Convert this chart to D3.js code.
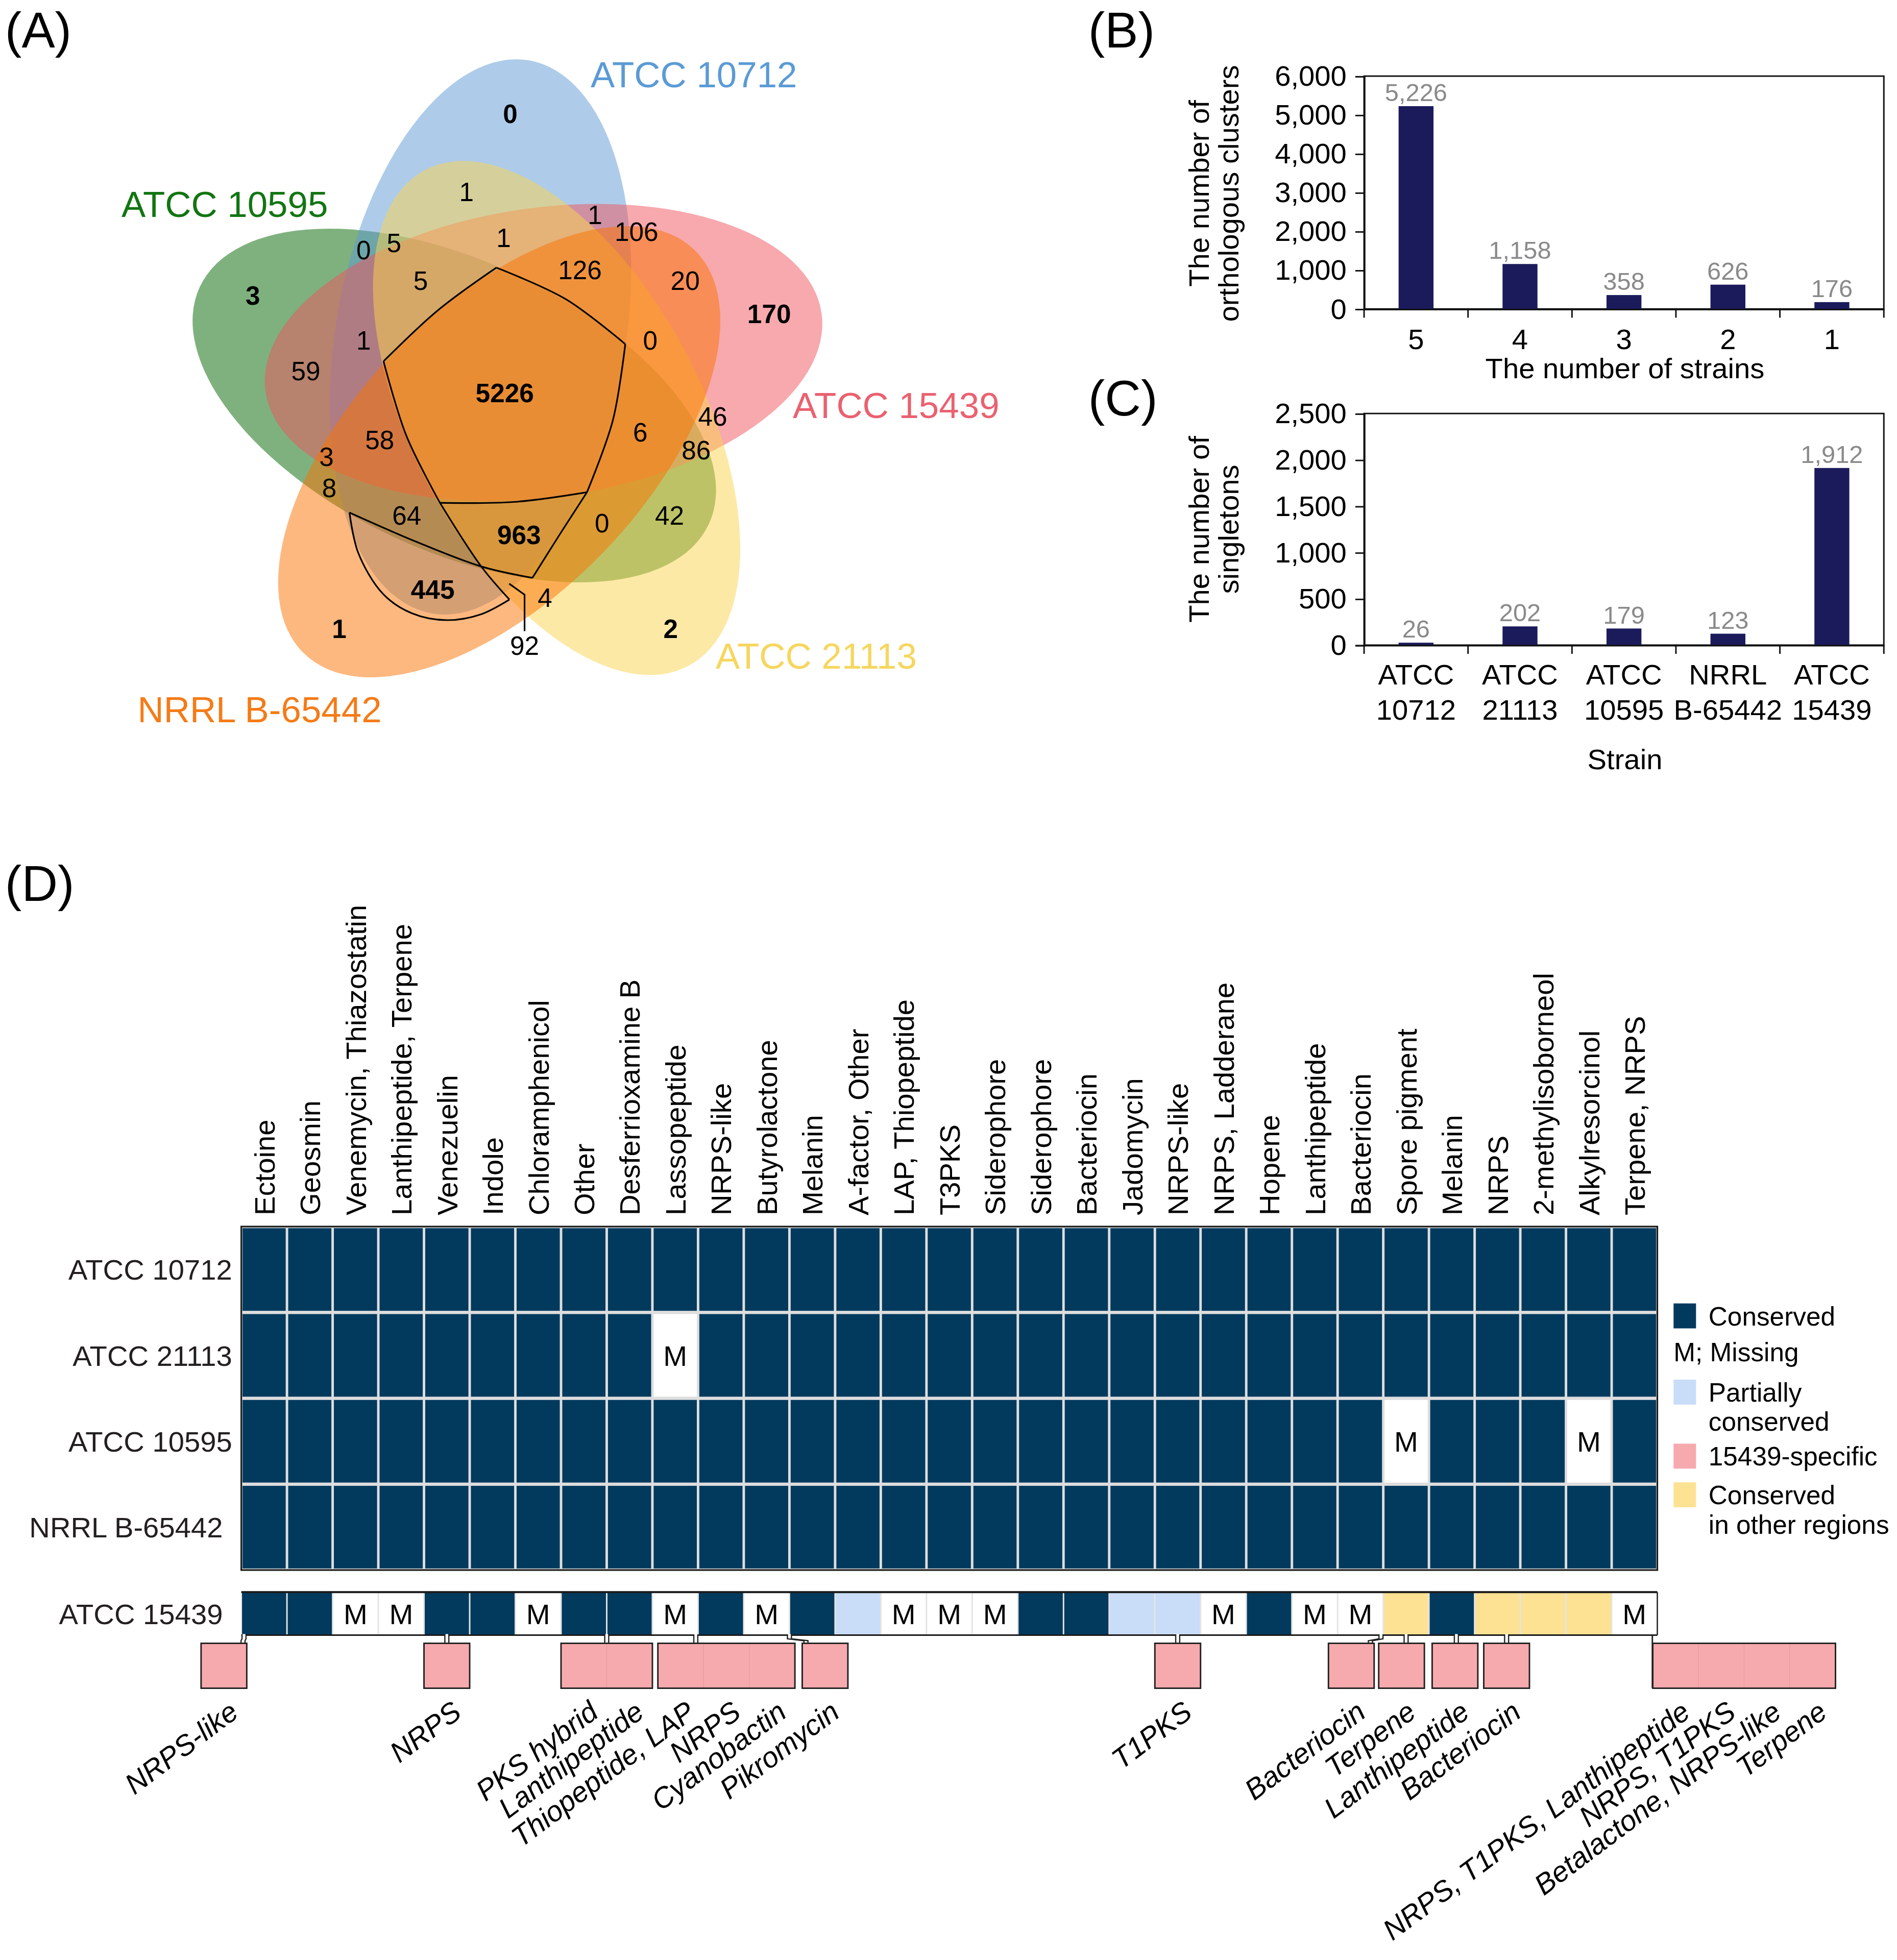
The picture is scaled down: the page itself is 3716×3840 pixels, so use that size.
<!DOCTYPE html>
<html lang="en">
<head>
<meta charset="UTF-8">
<title>Orthologous clusters and BGC conservation</title>
<script src="https://cdn.jsdelivr.net/npm/d3@7"></script>
<style>
  body { margin: 0; background: #fff; }
  svg { display: block; }
</style>
</head>
<body>
<div id="chart"></div>
<script>
// ---------- data ----------
// (A) Venn: strains clockwise from the top petal
const vennStrains = ["ATCC 10712", "ATCC 15439", "ATCC 21113", "NRRL B-65442", "ATCC 10595"];
const vennCounts = [0, 1, 1, 106, 0, 5, 1, 126, 20, 3, 5, 170, 1, 0, 59, 5226, 46, 6, 58, 3, 86, 8, 64, 963, 0, 42, 445, 4, 1, 92, 2];
const vennBold = [1, 0, 0, 0, 0, 0, 0, 0, 0, 1, 0, 1, 0, 0, 0, 1, 0, 0, 0, 0, 0, 0, 0, 1, 0, 0, 1, 0, 1, 0, 1];

// (B) orthologous clusters by number of sharing strains
const strainCounts = ["5", "4", "3", "2", "1"];
const orthoClusters = [5226, 1158, 358, 626, 176];
const orthoTicks = [0, 1000, 2000, 3000, 4000, 5000, 6000];

// (C) singletons per strain
const singletonStrains = ["ATCC 10712", "ATCC 21113", "ATCC 10595", "NRRL B-65442", "ATCC 15439"];
const singletons = [26, 202, 179, 123, 1912];
const singletonTicks = [0, 500, 1000, 1500, 2000, 2500];

// (D) BGC conservation; C conserved, M missing, P partial, O conserved in other regions
const bgcNames = ["Ectoine", "Geosmin", "Venemycin, Thiazostatin", "Lanthipeptide, Terpene", "Venezuelin",
  "Indole", "Chloramphenicol", "Other", "Desferrioxamine B", "Lassopeptide", "NRPS-like", "Butyrolactone",
  "Melanin", "A-factor, Other", "LAP, Thiopeptide", "T3PKS", "Siderophore", "Siderophore", "Bacteriocin",
  "Jadomycin", "NRPS-like", "NRPS, Ladderane", "Hopene", "Lanthipeptide", "Bacteriocin", "Spore pigment",
  "Melanin", "NRPS", "2-methylisoborneol", "Alkylresorcinol", "Terpene, NRPS"];
const heatStrains = ["ATCC 10712", "ATCC 21113", "ATCC 10595", "NRRL B-65442"];
const heatStatus = [
  "CCCCC CCCCC CCCCC CCCCC CCCCC CCCCC C",
  "CCCCC CCCCM CCCCC CCCCC CCCCC CCCCC C",
  "CCCCC CCCCC CCCCC CCCCC CCCCC MCCCM C",
  "CCCCC CCCCC CCCCC CCCCC CCCCC CCCCC C"
].map(s => s.replace(/ /g, "").split(""));
const refStrain = "ATCC 15439";
const refStatus = "CCMMC CMCCM CMCPM MMCCP PMCMM OCOOO M".replace(/ /g, "").split("");
// 15439-specific clusters (position in column units along the strip)
const insertLabels = ["NRPS-like", "NRPS", "PKS hybrid", "Lanthipeptide", "Thiopeptide, LAP", "NRPS",
  "Cyanobactin", "Pikromycin", "T1PKS", "Bacteriocin", "Terpene", "Lanthipeptide", "Bacteriocin",
  "NRPS, T1PKS, Lanthipeptide", "NRPS, T1PKS", "Betalactone, NRPS-like", "Terpene"];
const insertSlot = [-0.88, 4, 7, 8, 9.12, 10.12, 11.12, 12.28, 20, 23.8, 24.9, 26.07, 27.2, 30.9, 31.9, 32.9, 33.9];
const insertGroup = [0, 1, 2, 2, 3, 3, 3, 4, 5, 6, 7, 8, 9, 10, 10, 10, 10];
const groupLink = [0.06, 4.5, 8, 9.95, 12.0, 20.5, 24.95, 25.5, 26.6, 27.7, 30.9];

const legendItems = [
  { code: "C", lines: ["Conserved"] },
  { code: "M", lines: ["M; Missing"] },
  { code: "P", lines: ["Partially", "conserved"] },
  { code: "S", lines: ["15439-specific"] },
  { code: "O", lines: ["Conserved", "in other regions"] }
];

// ---------- layout ----------
const W = 1520, H = 1570.8;
const FONT = "'Liberation Sans', Arial, Helvetica, sans-serif";
const svg = d3.select("#chart").append("svg")
  .attr("width", 3716).attr("height", 3840)
  .attr("viewBox", `0 0 ${W} ${H}`)
  .attr("font-family", FONT);
svg.append("rect").attr("width", W).attr("height", H).attr("fill", "#fff");

const letters = [["(A)", 4, 38], ["(B)", 872, 38], ["(C)", 872, 333], ["(D)", 4, 722]];
svg.selectAll(".letter").data(letters).join("text")
  .attr("x", d => d[1]).attr("y", d => d[2])
  .attr("font-size", 40).text(d => d[0]);

// ---------- (A) Venn ----------
const vennFill = ["#5d99d3", "#ef535d", "#fbd34d", "#fb7100", "#006400"];
const vennText = ["#5b9bd5", "#ea6170", "#f6d65e", "#f57b17", "#127512"];
const vennCentre = [[385, 270], [435.5, 282.5], [446, 335], [400, 362], [364, 325]];
const vennAngle = [-80, -8, 62, -46, 25];
const va = 225, vb = 116;
const vennLabelXY = [[556, 70], [718, 335], [654, 536], [208, 579], [180, 174]];
const vennCountXY = [[408.8, 90.9], [373.8, 153.5], [476.7, 172], [510, 185.7], [291.3, 200.4], [315.7, 194.5],
  [403.5, 190.6], [464.7, 216], [549, 224.8], [202.6, 236.6], [337, 224.8], [616.3, 251.2], [291.3, 272.7],
  [521, 272.7], [245, 297], [404.4, 314.9], [571, 333.7], [513, 346.2], [304.2, 352.5], [261.6, 366],
  [557.8, 360.8], [263.8, 391], [325.9, 413], [415.9, 428.6], [482.4, 419.2], [536.5, 413], [346.7, 472.4],
  [436.7, 478.7], [271.8, 503.7], [420.3, 517.3], [537.4, 503.7]];

const ellipses = vennStrains.map((s, i) => ({
  cx: vennCentre[i][0], cy: vennCentre[i][1], rot: vennAngle[i], fill: vennFill[i]
}));
const drawOrder = [4, 0, 1, 2, 3];
const gv = svg.append("g");
gv.selectAll("ellipse").data(drawOrder.map(i => ellipses[i])).join("ellipse")
  .attr("cx", d => d.cx).attr("cy", d => d.cy).attr("rx", va).attr("ry", vb)
  .attr("transform", d => `rotate(${d.rot},${d.cx},${d.cy})`)
  .attr("fill", d => d.fill).attr("fill-opacity", 0.5);

// hand-drawn region outlines
const curve = d3.line().curve(d3.curveCatmullRom.alpha(0.5));
const outlines = [
  [[397.7, 214.5], [350.7, 248.8], [307.3, 289.6]],
  [[397.7, 214.5], [453, 239.6], [501, 275.8]],
  [[501, 275.8], [491, 337], [470.3, 394.5]],
  [[470.3, 394.5], [412.8, 402.2], [352.5, 403]],
  [[352.5, 403], [325.5, 349], [307.3, 289.6]],
  [[352.5, 403], [385.6, 454], [408.2, 480.5]],
  [[470.3, 394.5], [448.3, 428.6], [426.6, 463.1]],
  [[280, 410.8], [332.6, 433.8], [385.6, 454], [426.6, 463.1]],
  [[280, 410.8], [287, 443], [306.9, 476], [330, 491.5], [358, 497], [385.8, 492.2], [408.2, 480.5]]
];
gv.selectAll(".outline").data(outlines).join("path")
  .attr("d", curve).attr("fill", "none").attr("stroke", "#000").attr("stroke-width", 1.3);
gv.append("path").attr("d", d3.line()([[408, 467.8], [420.3, 476.6], [420.3, 505.8]]))
  .attr("fill", "none").attr("stroke", "#000").attr("stroke-width", 1.3);

gv.selectAll(".cnt").data(vennCounts).join("text")
  .attr("x", (d, i) => vennCountXY[i][0]).attr("y", (d, i) => vennCountXY[i][1])
  .attr("dy", "0.36em").attr("text-anchor", "middle").attr("font-size", 21)
  .attr("font-weight", (d, i) => vennBold[i] ? "bold" : "normal").text(d => d);
gv.selectAll(".vlab").data(vennStrains).join("text")
  .attr("x", (d, i) => vennLabelXY[i][0]).attr("y", (d, i) => vennLabelXY[i][1])
  .attr("text-anchor", "middle").attr("font-size", 29)
  .attr("fill", (d, i) => vennText[i]).text(d => d);

// ---------- (B) and (C) bars ----------
function barPanel(cfg) {
  const g = svg.append("g");
  const x0 = 1093, x1 = 1509.5;
  const x = d3.scaleBand().domain(cfg.cats).range([x0, x1]).paddingInner(0.664).paddingOuter(0.332);
  const y = d3.scaleLinear().domain([0, cfg.max]).range([cfg.bottom, cfg.top]);

  g.append("rect").attr("x", x0).attr("y", cfg.top).attr("width", x1 - x0).attr("height", cfg.bottom - cfg.top)
    .attr("fill", "none").attr("stroke", "#111").attr("stroke-width", 1.2);
  g.selectAll(".bar").data(cfg.vals).join("rect")
    .attr("x", (d, i) => x(cfg.cats[i])).attr("y", d => y(d))
    .attr("width", x.bandwidth()).attr("height", d => cfg.bottom - y(d))
    .attr("fill", "#1b1b5c");
  g.selectAll(".val").data(cfg.vals).join("text")
    .attr("x", (d, i) => x(cfg.cats[i]) + x.bandwidth() / 2).attr("y", d => y(d) - 4)
    .attr("text-anchor", "middle").attr("font-size", 20).attr("fill", "#8a8a8a")
    .text(d => d3.format(",")(d));

  const ya = g.append("g").attr("transform", `translate(${x0},0)`)
    .call(d3.axisLeft(y).tickValues(cfg.ticks).tickSize(7).tickPadding(7).tickFormat(d3.format(",")));
  ya.selectAll("text").attr("font-size", 23).attr("font-family", FONT).attr("fill", "#000");
  ya.selectAll("line,path").attr("stroke", "#111").attr("stroke-width", 1.2);

  const xa = g.append("g").attr("transform", `translate(0,${cfg.bottom})`)
    .call(d3.axisBottom(x).tickSize(0).tickPadding(cfg.twoLine ? 15.4 : 16));
  xa.selectAll("path").attr("stroke", "#111").attr("stroke-width", 1.2);
  xa.selectAll("text").attr("font-size", 23).attr("font-family", FONT).attr("fill", "#000");
  if (cfg.twoLine) {
    xa.selectAll(".tick text").each(function (d) {
      const t = d3.select(this).text(null);
      d.split(" ").forEach((w, i) => t.append("tspan").attr("x", 0).attr("dy", i ? 27.9 : null).text(w));
    });
  }
  g.selectAll(".btick").data(d3.range(cfg.cats.length + 1)).join("line")
    .attr("x1", i => x0 + i * x.step()).attr("x2", i => x0 + i * x.step())
    .attr("y1", cfg.bottom).attr("y2", cfg.bottom + 7).attr("stroke", "#111").attr("stroke-width", 1.2);

  g.append("text").attr("x", 1302).attr("y", cfg.titleY).attr("text-anchor", "middle")
    .attr("font-size", 23).text(cfg.title);
  const yt = (cfg.top + cfg.bottom) / 2 + cfg.yShift;
  cfg.yTitle.forEach((line, i) => {
    g.append("text").attr("transform", `translate(${968.5 + i * 24},${yt}) rotate(-90)`)
      .attr("text-anchor", "middle").attr("font-size", 23).text(line);
  });
}

barPanel({ cats: strainCounts, vals: orthoClusters, ticks: orthoTicks, max: 6000, top: 61, bottom: 247.6,
  twoLine: false, title: "The number of strains", titleY: 303, yTitle: ["The number of", "orthologous clusters"], yShift: 0.7 });
barPanel({ cats: singletonStrains, vals: singletons, ticks: singletonTicks, max: 2500, top: 331.4, bottom: 517,
  twoLine: true, title: "Strain", titleY: 616.5, yTitle: ["The number of", "singletons"], yShift: 0 });

// ---------- (D) heatmap ----------
const statusFill = { C: "#023a5e", M: "#ffffff", P: "#c9dcf8", O: "#fde293", S: "#f7aaae" };
const gx0 = 193.3, gx1 = 1328, gy0 = 983, gy1 = 1258.3;
const col = d3.scaleBand().domain(d3.range(bgcNames.length)).range([gx0, gx1]);
const colPos = d3.scaleLinear().domain([0, bgcNames.length]).range([gx0, gx1]);
const row = d3.scaleBand().domain(heatStrains).range([gy0, gy1]);
const gd = svg.append("g");

gd.selectAll(".clab").data(bgcNames).join("text")
  .attr("transform", (d, i) => `translate(${col(i) + col.bandwidth() / 2},974) rotate(-90)`)
  .attr("dy", "0.36em").attr("font-size", 23).text(d => d);

gd.append("rect").attr("x", gx0).attr("y", gy0).attr("width", gx1 - gx0).attr("height", gy1 - gy0).attr("fill", "#dedede");
heatStrains.forEach((s, r) => {
  const cells = gd.append("g");
  cells.selectAll("rect").data(heatStatus[r]).join("rect")
    .attr("x", (d, i) => col(i) + 1).attr("y", row(s) + 1.3)
    .attr("width", col.bandwidth() - 2).attr("height", row.bandwidth() - 2.6)
    .attr("fill", d => statusFill[d]);
  cells.selectAll("text").data(heatStatus[r].map((d, i) => [d, i]).filter(d => d[0] === "M")).join("text")
    .attr("x", d => col(d[1]) + col.bandwidth() / 2).attr("y", row(s) + row.bandwidth() / 2)
    .attr("dy", "0.36em").attr("text-anchor", "middle").attr("font-size", 23).text("M");
});
gd.append("rect").attr("x", gx0).attr("y", gy0).attr("width", gx1 - gx0).attr("height", gy1 - gy0)
  .attr("fill", "none").attr("stroke", "#1a1a1a").attr("stroke-width", 1.3);
gd.selectAll(".rlab").data(heatStrains).join("text")
  .attr("x", (d, i) => i === 3 ? 178.5 : 186).attr("y", d => row(d) + row.bandwidth() / 2)
  .attr("dy", "0.36em").attr("text-anchor", "end").attr("font-size", 23).attr("fill", "#231f20").text(d => d);

// reference strain strip
const sy0 = 1276, sy1 = 1310.4;
gd.append("rect").attr("x", gx0).attr("y", sy0).attr("width", gx1 - gx0).attr("height", sy1 - sy0).attr("fill", "#e4e4e4");
gd.selectAll(".ref").data(refStatus).join("rect")
  .attr("x", (d, i) => col(i) + 0.6).attr("y", sy0)
  .attr("width", col.bandwidth() - 1.2).attr("height", sy1 - sy0)
  .attr("fill", d => statusFill[d]);
gd.selectAll(".refm").data(refStatus.map((d, i) => [d, i]).filter(d => d[0] === "M")).join("text")
  .attr("x", d => col(d[1]) + col.bandwidth() / 2).attr("y", (sy0 + sy1) / 2)
  .attr("dy", "0.36em").attr("text-anchor", "middle").attr("font-size", 23).text("M");
gd.append("line").attr("x1", gx0).attr("x2", gx1).attr("y1", sy0).attr("y2", sy0).attr("stroke", "#1a1a1a").attr("stroke-width", 1.6);
gd.append("line").attr("x1", gx0).attr("x2", gx1).attr("y1", sy1).attr("y2", sy1).attr("stroke", "#1a1a1a").attr("stroke-width", 1.2);
gd.append("line").attr("x1", gx1).attr("x2", gx1).attr("y1", sy0).attr("y2", sy1).attr("stroke", "#1a1a1a").attr("stroke-width", 1);
gd.append("text").attr("x", 178.5).attr("y", (sy0 + sy1) / 2).attr("dy", "0.36em")
  .attr("text-anchor", "end").attr("font-size", 23).attr("fill", "#231f20").text(refStrain);

// 15439-specific clusters hanging below the strip
const by0 = 1317, by1 = 1353;
const unit = col.bandwidth();
gd.selectAll(".ins").data(insertSlot).join("rect")
  .attr("x", d => colPos(d)).attr("y", by0).attr("width", unit).attr("height", by1 - by0)
  .attr("fill", statusFill.S).attr("stroke", "#eb9ba0").attr("stroke-width", 0.5);
const groups = d3.groups(insertSlot.map((s, i) => [s, insertGroup[i]]), d => d[1]);
groups.forEach(([gid, members]) => {
  const gx = colPos(d3.min(members, m => m[0])), gw = colPos(d3.max(members, m => m[0])) + unit - gx;
  gd.append("rect").attr("x", gx).attr("y", by0).attr("width", gw).attr("height", by1 - by0)
    .attr("fill", "none").attr("stroke", "#222").attr("stroke-width", 1.2);
  const lx = colPos(groupLink[gid]);
  if (gid === 10) {
    gd.append("line").attr("x1", gx1 - 4).attr("x2", gx1 - 4).attr("y1", sy1).attr("y2", by1)
      .attr("stroke", "#222").attr("stroke-width", 1.2);
  } else {
    const target = Math.min(Math.max(lx, gx + 3), gx + gw - 3);
    const pts = target === lx ? [[lx, sy1], [lx, by0]]
      : [[lx, sy1], [lx, sy1 + 3], [target, sy1 + 4.5], [target, by0]];
    [-1.6, 1.6].forEach(o => {
      gd.append("path").attr("d", d3.line()(pts.map(p => [p[0] + o, p[1]])))
        .attr("fill", "none").attr("stroke", "#222").attr("stroke-width", 1);
    });
    gd.append("rect").attr("x", lx - 1.1).attr("y", sy1 - 0.8).attr("width", 2.2).attr("height", 1.6).attr("fill", "#fff");
  }
});
gd.selectAll(".ilab").data(insertLabels).join("text")
  .attr("transform", (d, i) => `translate(${colPos(insertSlot[i]) + unit / 2 + 13},1375) rotate(-37)`)
  .attr("text-anchor", "end").attr("font-size", 23).attr("font-style", "italic").text(d => d);

// legend
const lg = gd.append("g");
const legendY = [1044.6, 1073.5, 1105.7, 1157, 1188];
legendItems.forEach((it, i) => {
  const y = legendY[i];
  if (it.code !== "M") {
    lg.append("rect").attr("x", 1341).attr("y", y).attr("width", 18).attr("height", 20).attr("fill", statusFill[it.code]);
  }
  it.lines.forEach((t, j) => {
    lg.append("text").attr("x", it.code === "M" ? 1341 : 1369).attr("y", y + 10 + j * 23.5)
      .attr("dy", "0.36em").attr("font-size", 21).text(t);
  });
});
</script>
</body>
</html>
